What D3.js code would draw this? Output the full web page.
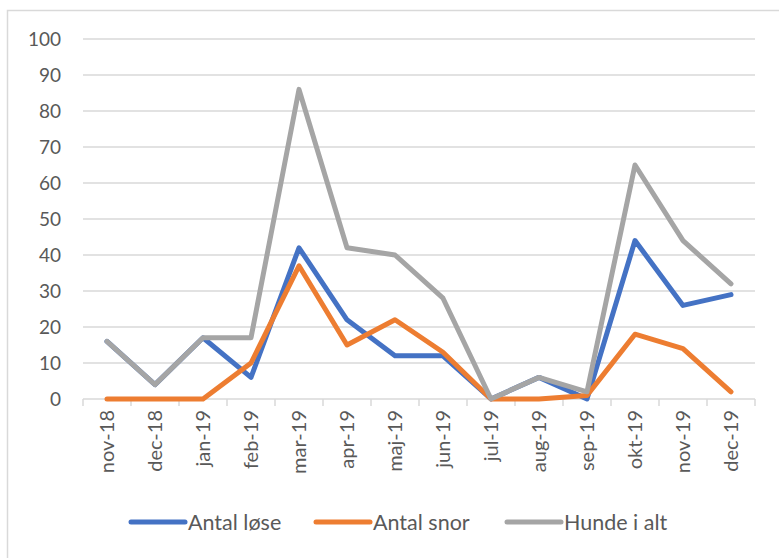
<!DOCTYPE html>
<html>
<head>
<meta charset="utf-8">
<script src="https://cdn.jsdelivr.net/npm/d3@7"></script>
<style>
  body { margin: 0; background: #fff; }
  text { font-family: Lato, "Open Sans", sans-serif; fill: #595959; }
</style>
</head>
<body>
<div id="chart"></div>
<script>
// data
const months = ["nov-18", "dec-18", "jan-19", "feb-19", "mar-19", "apr-19", "maj-19",
  "jun-19", "jul-19", "aug-19", "sep-19", "okt-19", "nov-19", "dec-19"];
const antalLose = [16, 4, 17, 6, 42, 22, 12, 12, 0, 6, 0, 44, 26, 29];
const antalSnor = [0, 0, 0, 10, 37, 15, 22, 13, 0, 0, 1, 18, 14, 2];
const hundeIAlt = [16, 4, 17, 17, 86, 42, 40, 28, 0, 6, 2, 65, 44, 32];
const yTicks = [0, 10, 20, 30, 40, 50, 60, 70, 80, 90, 100];

const series = [
  { name: "Antal løse", values: antalLose, color: "#4472C4" },
  { name: "Antal snor", values: antalSnor, color: "#ED7D31" },
  { name: "Hunde i alt", values: hundeIAlt, color: "#A5A5A5" }
];

const width = 779, height = 558;
const margin = { top: 39, right: 24, bottom: 159, left: 83 };

const svg = d3.select("#chart")
  .append("svg")
  .attr("width", width)
  .attr("height", height);

// chart frame
svg.append("rect")
  .attr("x", 7.5)
  .attr("y", 10.5)
  .attr("width", 800)
  .attr("height", 600)
  .attr("fill", "none")
  .attr("stroke", "#d9d9d9")
  .attr("stroke-width", 1.5);

const x = d3.scaleBand()
  .domain(months)
  .range([margin.left, width - margin.right])
  .padding(0);

const y = d3.scaleLinear()
  .domain([0, 100])
  .range([height - margin.bottom, margin.top]);

// gridlines
svg.append("g")
  .selectAll("line")
  .data(yTicks.filter(d => d > 0))
  .join("line")
  .attr("x1", margin.left)
  .attr("x2", width - margin.right)
  .attr("y1", d => y(d))
  .attr("y2", d => y(d))
  .attr("stroke", "#d9d9d9")
  .attr("stroke-width", 1.5);

// y labels
svg.append("g")
  .selectAll("text")
  .data(yTicks)
  .join("text")
  .attr("x", 61)
  .attr("y", d => y(d))
  .attr("dy", "0.35em")
  .attr("text-anchor", "end")
  .style("font-size", "19px")
  .text(d => d);

// x axis line and boundary ticks
const axisY = y(0);
svg.append("line")
  .attr("x1", margin.left)
  .attr("x2", width - margin.right)
  .attr("y1", axisY)
  .attr("y2", axisY)
  .attr("stroke", "#d9d9d9")
  .attr("stroke-width", 1.5);

const bounds = months.map(m => x(m)).concat([x(months[months.length - 1]) + x.bandwidth()]);
svg.append("g")
  .selectAll("line")
  .data(bounds)
  .join("line")
  .attr("x1", d => d)
  .attr("x2", d => d)
  .attr("y1", axisY)
  .attr("y2", axisY + 7)
  .attr("stroke", "#d9d9d9")
  .attr("stroke-width", 1.5);

// x labels, rotated
svg.append("g")
  .selectAll("text")
  .data(months)
  .join("text")
  .attr("transform", d => "translate(" + (x(d) + x.bandwidth() / 2) + "," + (axisY + 11) + ") rotate(-90)")
  .attr("dy", "0.35em")
  .attr("text-anchor", "end")
  .style("font-size", "20px")
  .text(d => d);

// lines
const line = d3.line()
  .x((d, i) => x(months[i]) + x.bandwidth() / 2)
  .y(d => y(d));

svg.append("g")
  .selectAll("path")
  .data(series)
  .join("path")
  .attr("fill", "none")
  .attr("stroke", d => d.color)
  .attr("stroke-width", 5)
  .attr("stroke-linejoin", "round")
  .attr("stroke-linecap", "round")
  .attr("d", d => line(d.values));

// legend
const legendX = [131, 316, 507];
const legend = svg.append("g")
  .selectAll("g")
  .data(series)
  .join("g")
  .attr("transform", (d, i) => "translate(" + legendX[i] + ",522)");

legend.append("line")
  .attr("x1", 0)
  .attr("x2", 54)
  .attr("stroke", d => d.color)
  .attr("stroke-width", 5)
  .attr("stroke-linecap", "round");

legend.append("text")
  .attr("x", 57)
  .attr("dy", "0.35em")
  .style("font-size", "21.5px")
  .text(d => d.name);
</script>
</body>
</html>
